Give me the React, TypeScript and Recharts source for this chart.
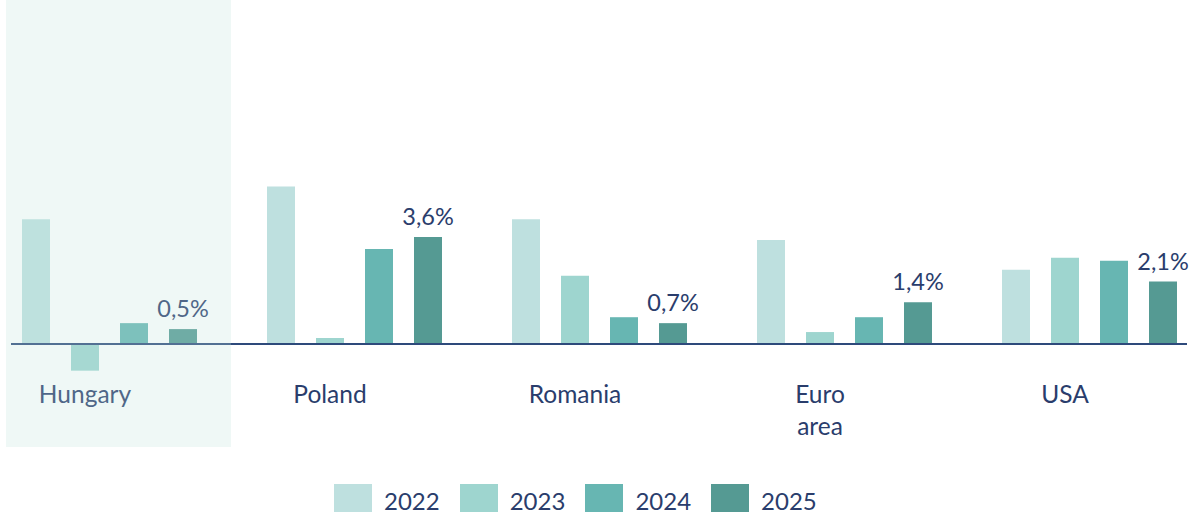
import React from 'react';
import { BarChart, Bar, XAxis, YAxis, LabelList, ReferenceLine, ReferenceArea, Legend } from 'recharts';

const categories = ['Hungary', 'Poland', 'Romania', 'Euro area', 'USA'];
const y2022 = [4.2, 5.3, 4.2, 3.5, 2.5];
const y2023 = [-0.9, 0.2, 2.3, 0.4, 2.9];
const y2024 = [0.7, 3.2, 0.9, 0.9, 2.8];
const y2025 = [0.5, 3.6, 0.7, 1.4, 2.1];
const seriesNames = ['2022', '2023', '2024', '2025'];
const seriesColors = ['#BEE0DF', '#9ED5CF', '#67B6B2', '#559A93'];

const data = categories.map((name, i) => ({
  name,
  y2022: y2022[i],
  y2023: y2023[i],
  y2024: y2024[i],
  y2025: y2025[i],
}));

const FONT = 'Lato, "Open Sans", sans-serif';
const NAVY = '#2A3D6C';

const CatTick = (props: any) => {
  const { x, y, payload } = props;
  const words: string[] = String(payload.value).split(' ');
  const cx = x - 24.5;
  return (
    <text x={cx} y={y - 44} textAnchor="middle" fill={NAVY} fontSize={24.5} fontFamily={FONT}>
      {words.map((w, i) => (
        <tspan key={i} x={cx} dy={i === 0 ? 0 : 32}>
          {w}
        </tspan>
      ))}
    </text>
  );
};

const LegendContent = (props: any) => {
  const payload = props.payload || [];
  return (
    <div style={{ position: 'relative', height: 0 }}>
      <div
        style={{
          position: 'absolute',
          top: 484,
          left: 334,
          display: 'flex',
          alignItems: 'center',
          fontFamily: FONT,
          fontSize: 24,
          color: NAVY,
          whiteSpace: 'nowrap',
        }}
      >
        {payload.map((p: any, i: number) => (
          <div key={i} style={{ display: 'flex', alignItems: 'center', marginRight: 20 }}>
            <div style={{ width: 38, height: 28, background: p.color }} />
            <span style={{ marginLeft: 12, lineHeight: '28px', position: 'relative', top: 3 }}>{p.value}</span>
          </div>
        ))}
      </div>
    </div>
  );
};

const fmt = (v: any) => Number(v).toFixed(1).replace('.', ',') + '%';

const OverlayShape = (p: any) => (
  <rect x={p.x + 19} y={p.y} width={p.width - 20} height={p.height} fill="rgb(190,227,218)" fillOpacity={0.25} />
);

export default function App() {
  return (
    <div style={{ position: 'absolute', left: 0, top: 0, width: 1191, height: 518, background: '#fff' }}>
      <BarChart
        width={1191}
        height={518}
        data={data}
        margin={{ top: 0, right: 4, bottom: 41, left: 11 }}
        barSize={28}
        barGap={21}
      >
        <XAxis
          dataKey="name"
          padding={{ left: -24, right: -25 }}
          axisLine={false}
          tickLine={false}
          tickSize={0}
          tickMargin={0}
          height={30}
          interval={0}
          tick={<CatTick />}
        />
        <YAxis hide domain={[-3.47, 11.58]} />
        <Legend
          verticalAlign="bottom"
          content={<LegendContent />}
          wrapperStyle={{ position: 'absolute', top: 0, left: 0, width: 1191, height: 0 }}
        />
        <Bar dataKey="y2022" name={seriesNames[0]} fill={seriesColors[0]} isAnimationActive={false} />
        <Bar dataKey="y2023" name={seriesNames[1]} fill={seriesColors[1]} isAnimationActive={false} />
        <Bar dataKey="y2024" name={seriesNames[2]} fill={seriesColors[2]} isAnimationActive={false} />
        <Bar dataKey="y2025" name={seriesNames[3]} fill={seriesColors[3]} isAnimationActive={false}>
          <LabelList
            dataKey="y2025"
            position="top"
            offset={12}
            formatter={fmt}
            fill={NAVY}
            fontSize={23.5}
            fontFamily={FONT}
          />
        </Bar>
        <ReferenceLine y={0} stroke="#2E4A7B" strokeWidth={2} />
        <ReferenceArea x1="Hungary" x2="Hungary" shape={<OverlayShape />} zIndex={3000} />
      </BarChart>
    </div>
  );
}
